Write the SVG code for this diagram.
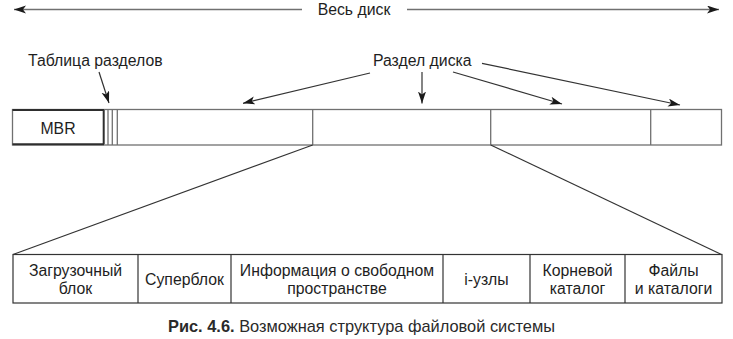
<svg xmlns="http://www.w3.org/2000/svg" width="733" height="339" viewBox="0 0 733 339">
<defs>
<style>
text{font-family:"Liberation Sans",Arial,sans-serif;font-size:15.8px;fill:#1e1e1e}
.c{text-anchor:middle}
.ln{stroke:#707070;stroke-width:1.3;fill:none}
.ar{stroke:#333;stroke-width:1.2;fill:none}
.dk{stroke:#2e2e2e;stroke-width:2;fill:none}
</style>
<marker id="ah" markerUnits="userSpaceOnUse" markerWidth="14" markerHeight="10" refX="12" refY="4" orient="auto" viewBox="0 0 14 10">
<path d="M0,0 L12,4 L0,8 L3,4 z" fill="#1a1a1a"/>
</marker>
</defs>
<rect width="733" height="339" fill="#fff"/>

<g id="whole-disk">
<line class="ln" x1="302" y1="9.5" x2="14" y2="9.5" marker-end="url(#ah)"/>
<line class="ln" x1="407" y1="9.5" x2="719" y2="9.5" marker-end="url(#ah)"/>
<text class="c" x="354" y="15">Весь диск</text>
</g>

<g id="labels">
<text x="28" y="66">Таблица разделов</text>
<text x="373" y="66">Раздел диска</text>
</g>

<g id="disk-bar">
<rect x="12.5" y="109.5" width="709" height="35.5" class="ln"/>
<line class="ln" x1="108" y1="109.5" x2="108" y2="145"/>
<line class="ln" x1="112.3" y1="109.5" x2="112.3" y2="145"/>
<line class="ln" x1="117.3" y1="109.5" x2="117.3" y2="145"/>
<line class="ln" x1="312.7" y1="109.5" x2="312.7" y2="145"/>
<line class="ln" x1="490.7" y1="109.5" x2="490.7" y2="145"/>
<line class="ln" x1="650.7" y1="109.5" x2="650.7" y2="145"/>
</g>

<g id="mbr">
<line class="dk" x1="12.5" y1="110" x2="104" y2="110"/>
<line class="dk" x1="12.5" y1="144.3" x2="104" y2="144.3"/>
<line class="dk" x1="103.7" y1="110" x2="103.7" y2="144.3"/>
<text class="c" x="58" y="134">MBR</text>
</g>

<g id="connectors">
<line class="ar" x1="99" y1="72" x2="109" y2="103" marker-end="url(#ah)"/>
<line class="ar" x1="370" y1="73" x2="243" y2="103.3" marker-end="url(#ah)"/>
<line class="ar" x1="422" y1="72" x2="422" y2="103.5" marker-end="url(#ah)"/>
<line class="ar" x1="453" y1="72" x2="562" y2="104" marker-end="url(#ah)"/>
<line class="ar" x1="482" y1="63.3" x2="680" y2="105" marker-end="url(#ah)"/>
<line class="ar" x1="312.7" y1="145" x2="13" y2="254.5"/>
<line class="ar" x1="490.7" y1="145" x2="721.5" y2="254.5"/>
</g>

<g id="fs-layout">
<rect x="13" y="254.5" width="709" height="48.5" class="ar"/>
<line class="ar" x1="138" y1="254.5" x2="138" y2="303"/>
<line class="ar" x1="231" y1="254.5" x2="231" y2="303"/>
<line class="ar" x1="443" y1="254.5" x2="443" y2="303"/>
<line class="ar" x1="530" y1="254.5" x2="530" y2="303"/>
<line class="ar" x1="625" y1="254.5" x2="625" y2="303"/>
</g>
<g id="boot"><text class="c" x="75.5" y="276">Загрузочный</text><text class="c" x="75.5" y="294">блок</text></g>
<g id="superblock"><text class="c" x="184.5" y="285">Суперблок</text></g>
<g id="free-space"><text class="c" x="337" y="276">Информация о свободном</text><text class="c" x="337" y="294">пространстве</text></g>
<g id="inodes"><text class="c" x="486.5" y="285">i-узлы</text></g>
<g id="root-dir"><text class="c" x="577.5" y="276">Корневой</text><text class="c" x="577.5" y="294">каталог</text></g>
<g id="files"><text class="c" x="673.5" y="276">Файлы</text><text class="c" x="673.5" y="294">и каталоги</text></g>

<g id="caption">
<text x="168" y="332" style="fill:#2a2a2a;font-size:16.4px"><tspan font-weight="bold">Рис. 4.6.</tspan> Возможная структура файловой системы</text>
</g>
</svg>
